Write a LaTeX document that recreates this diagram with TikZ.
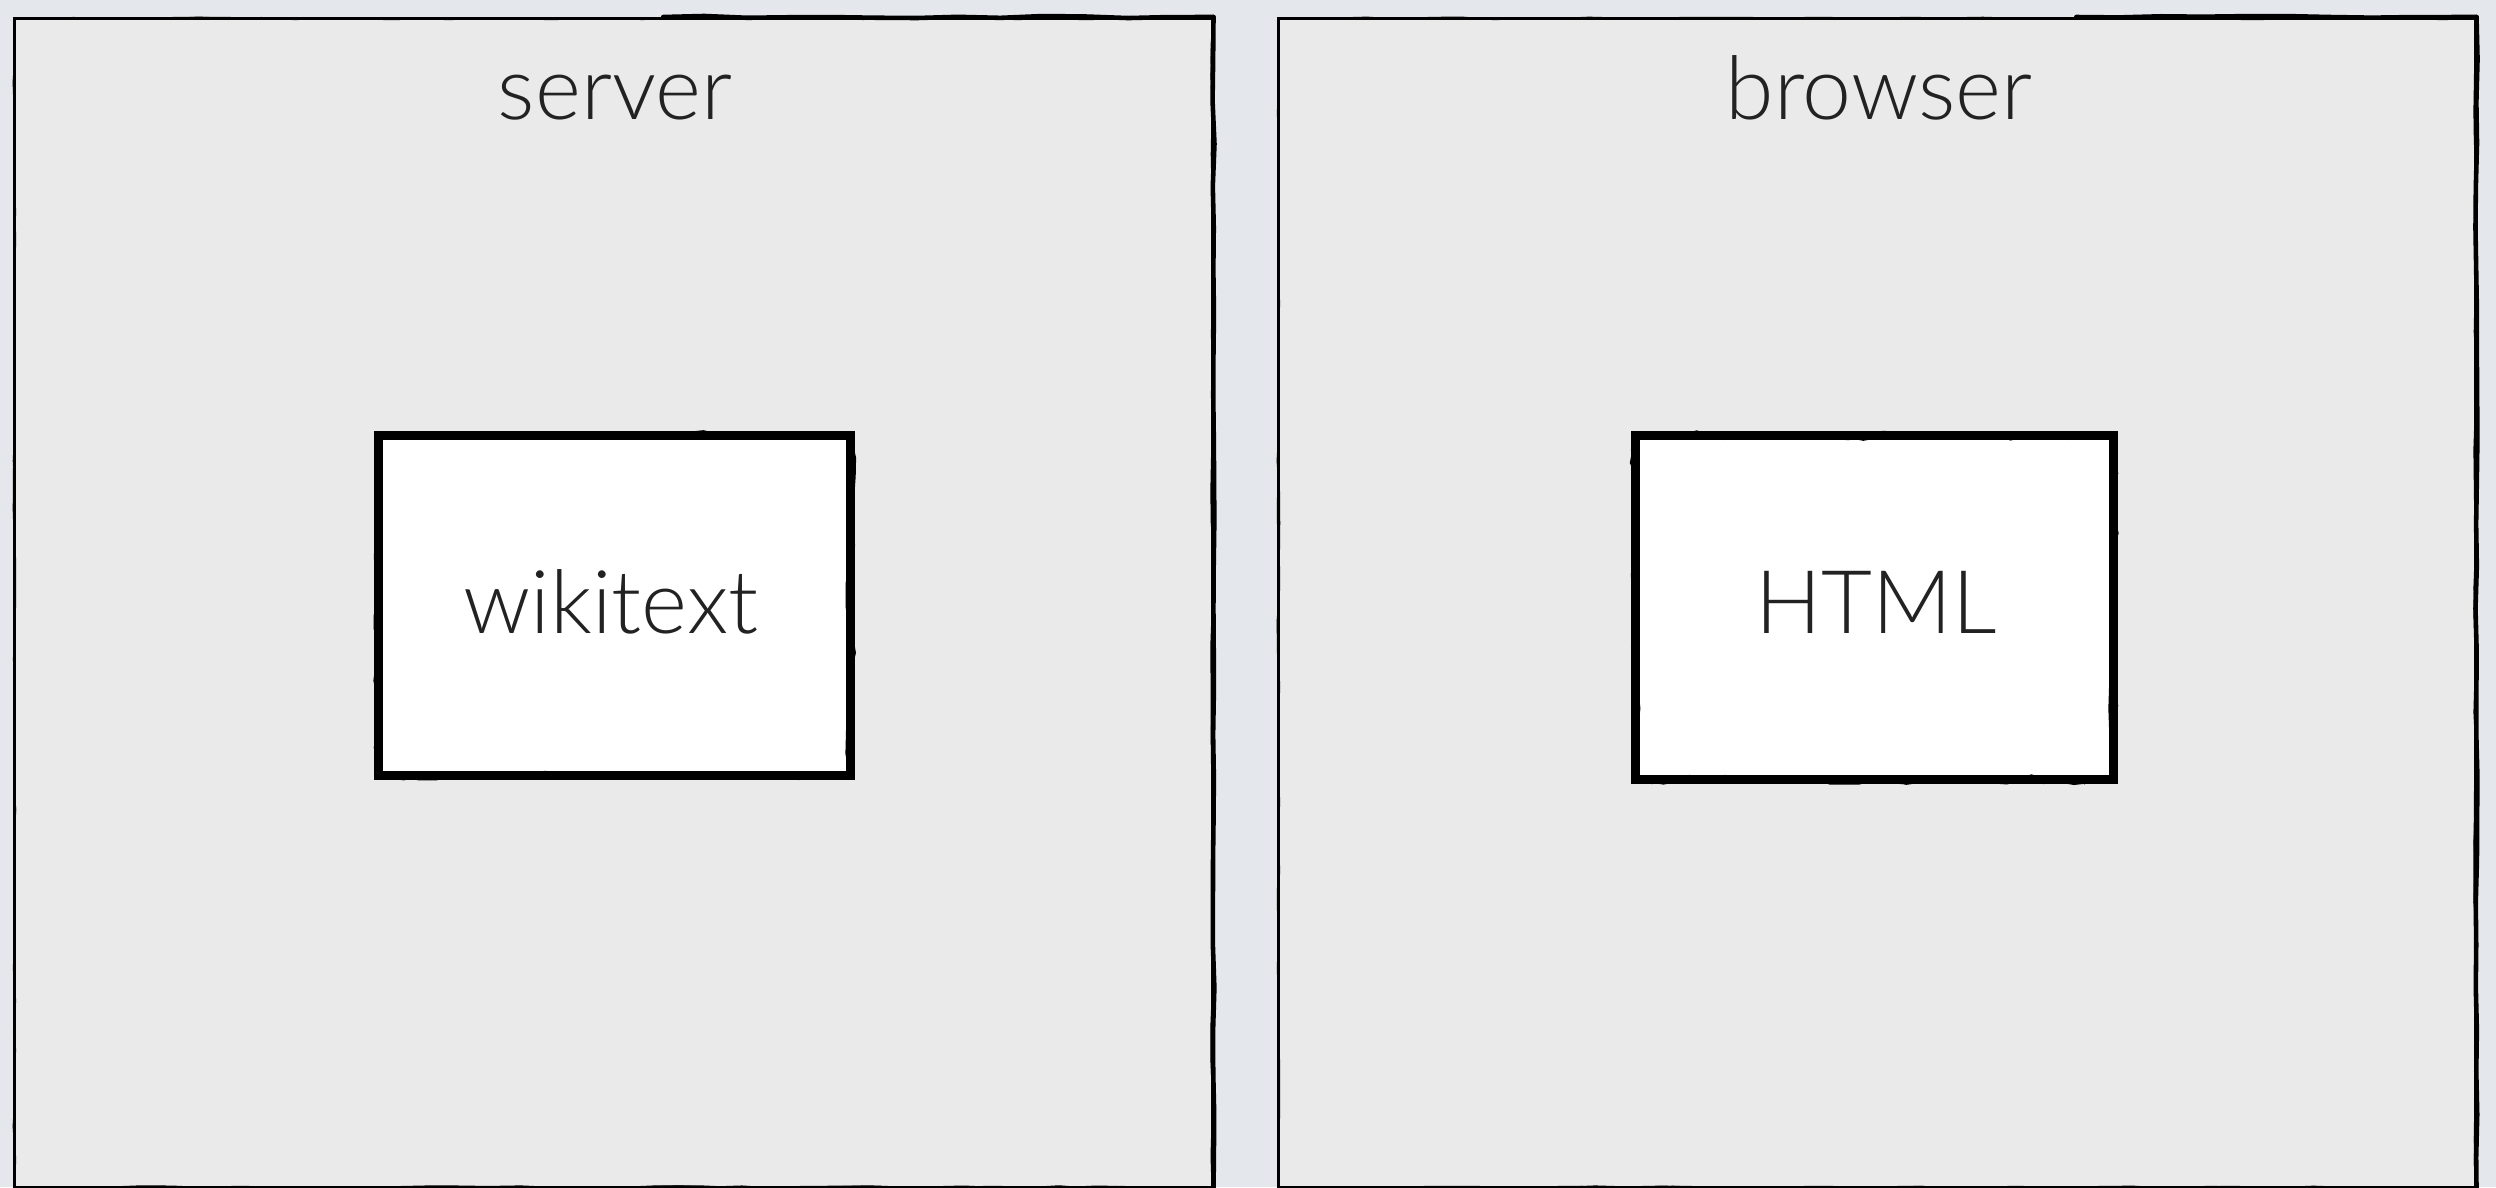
\documentclass[tikz,border=0pt]{standalone}
\usepackage{fontspec}
\setmainfont{Lato}[UprightFont={* Light}]
\usetikzlibrary{decorations.pathmorphing}
\definecolor{bgc}{HTML}{E4E7EB}
\definecolor{panelc}{HTML}{EAEAEA}
\definecolor{txtc}{HTML}{222222}
\tikzset{
  rough/.style={decorate, decoration={random steps, segment length=#1, amplitude=0.35pt}},
  panel/.style={anchor=north west, inner sep=0pt, fill=panelc, draw=black, line width=0.8pt,
    postaction={draw, line width=0.35pt, rough=9pt},
    postaction={draw, line width=0.3pt, rough=14pt}},
  sketchbox/.style={anchor=north west, inner sep=0pt, fill=white, draw=black, line width=2.5pt,
    postaction={draw, line width=0.5pt, decorate, decoration={random steps, segment length=5pt, amplitude=1.1pt}},
    postaction={draw, line width=0.35pt, decorate, decoration={random steps, segment length=7pt, amplitude=1.4pt}},
    postaction={draw, line width=0.3pt, decorate, decoration={random steps, segment length=4pt, amplitude=1.2pt}}},
  heavyedge/.style={draw=black, line width=1.3pt, line cap=round, decorate, decoration={random steps, segment length=12pt, amplitude=0.3pt}},
  label/.style={text=txtc, font=\fontsize{25}{30}\selectfont, anchor=base, inner sep=0pt}
}
\begin{document}
\begin{tikzpicture}[x=0.01cm, y=-0.01cm]
\pgfmathsetseed{7}
\fill[bgc] (0,0) rectangle (2496,1187);
\useasboundingbox (0,0) rectangle (2496,1187);
\node[panel, minimum width=11.97cm, minimum height=11.68cm] (server) at (13,17) {};
\node[panel, minimum width=11.96cm, minimum height=11.68cm] (browser) at (1277,17) {};
\draw[heavyedge] (server.north east) -- (server.south east);
\draw[heavyedge] (browser.north east) -- (browser.south east);
\draw[heavyedge] ([xshift=-5.5cm]server.north east) -- (server.north east);
\draw[heavyedge] ([xshift=-4cm]browser.north east) -- (browser.north east);
\node[label] (serverlbl) at (615,119) {server};
\node[label] (browserlbl) at (1879,119) {browser};
\node[sketchbox, minimum width=4.72cm, minimum height=3.40cm] (wiki) at (374,431) {};
\node[sketchbox, minimum width=4.78cm, minimum height=3.44cm] (html) at (1631,431) {};
\node[label] (wikilbl) at (611,633) {wikitext};
\node[label] (htmllbl) at (1876,633) {HTML};
\end{tikzpicture}
\end{document}
